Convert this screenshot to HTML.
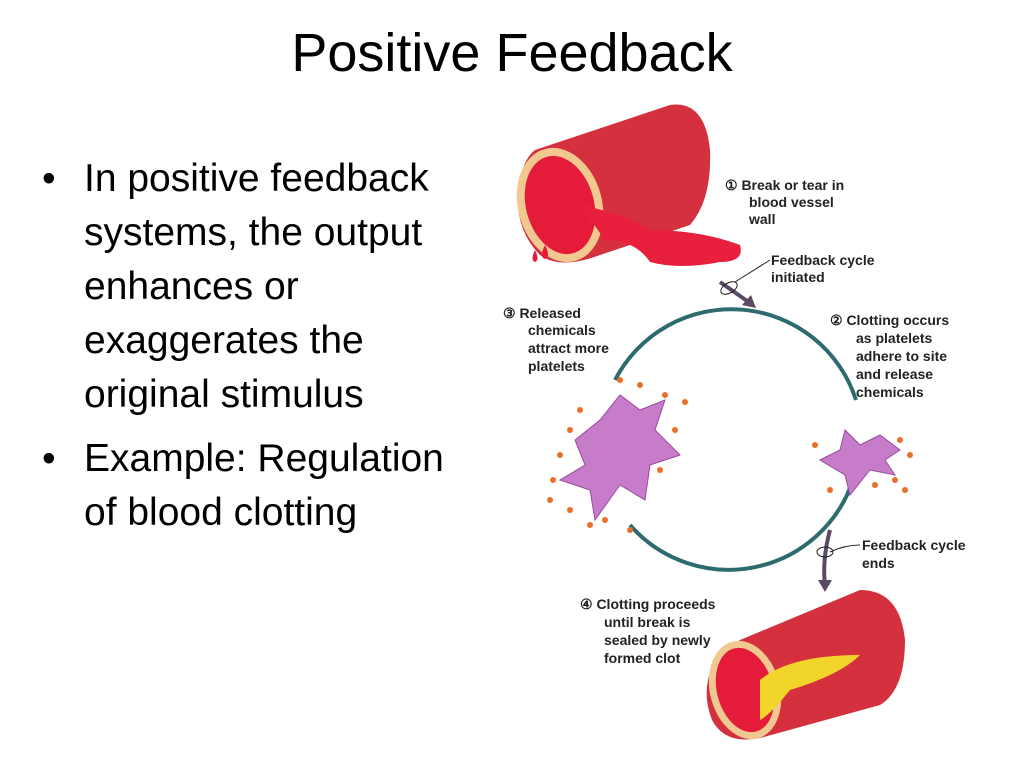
<!DOCTYPE html>
<html><head><style>
body{margin:0;width:1024px;height:768px;background:#fff;overflow:hidden;position:relative;font-family:"Liberation Sans",sans-serif}
#t{position:absolute;top:22px;left:0;width:1024px;text-align:center;font-size:54px;color:#000}
ul{position:absolute;left:42px;top:152px;margin:0;padding:0;list-style:none;font-size:39px;line-height:54px;color:#000;white-space:nowrap}
li{position:relative;padding-left:42px}
li:before{content:"•";position:absolute;left:0}
svg{position:absolute;left:0;top:0}
svg text{font-family:"Liberation Sans",sans-serif;font-weight:bold;font-size:14px;fill:#222}
</style></head><body>
<div id="t">Positive Feedback</div>
<ul><li>In positive feedback<br>systems, the output<br>enhances or<br>exaggerates the<br>original stimulus</li>
<li style="margin-top:10px">Example: Regulation<br>of blood clotting</li></ul>
<svg width="1024" height="768">
<path d="M535 150 L670 105 Q705 100 710 150 Q712 200 690 225 L600 255 Q560 270 540 255 Q515 230 518 190 Q522 160 535 150Z" fill="#d4303e"/>
<ellipse cx="560" cy="205" rx="42" ry="58" transform="rotate(-15 560 205)" fill="#f0c890"/>
<ellipse cx="560" cy="205" rx="34" ry="50" transform="rotate(-15 560 205)" fill="#e41c3a"/>
<path d="M580 205 Q630 215 650 230 Q700 230 740 245 Q745 262 720 262 Q680 270 650 262 Q635 240 605 240Z" fill="#e8203e"/>
<path d="M545 245 q-6 12 0 14 q6 -2 0 -14Z M535 250 q-5 10 0 12 q5 -2 0 -12Z" fill="#e41c3a"/>
<line x1="720" y1="282" x2="750" y2="303" stroke="#5a4a66" stroke-width="4"/>
<polygon points="756,308 742,305 751,295" fill="#5a4a66"/>
<ellipse cx="729" cy="288" rx="9" ry="5" fill="none" stroke="#222" transform="rotate(-30 729 288)"/>
<path d="M735 282 L770 260" stroke="#222" fill="none"/>
<path d="M615 380 A131 131 0 0 1 856 400" fill="none" stroke="#2e6b6f" stroke-width="4"/>
<path d="M853 480 A131 131 0 0 1 630 525" fill="none" stroke="#2e6b6f" stroke-width="4"/>
<path d="M830 530 Q822 560 825 585" stroke="#5a4a66" stroke-width="4" fill="none"/>
<polygon points="818,580 832,580 825,592" fill="#5a4a66"/>
<ellipse cx="825" cy="552" rx="8" ry="5" fill="none" stroke="#222"/>
<path d="M830 552 Q845 545 860 545" stroke="#222" fill="none"/>
<g fill="#c77cc9" stroke="#9a4aa0" stroke-width="1">
<path d="M575 440 L600 420 L620 395 L640 410 L665 400 L655 430 L680 455 L650 465 L645 500 L620 485 L595 520 L590 490 L560 480 L585 465Z"/>
<path d="M820 460 L840 450 L845 430 L860 445 L880 435 L900 450 L885 460 L895 475 L870 470 L850 495 L845 475Z"/>
</g>
<g fill="#e8702a">
<circle cx="580" cy="410" r="3"/><circle cx="570" cy="430" r="3"/><circle cx="560" cy="455" r="3"/><circle cx="553" cy="480" r="3"/><circle cx="550" cy="500" r="3"/><circle cx="620" cy="380" r="3"/><circle cx="640" cy="385" r="3"/><circle cx="665" cy="395" r="3"/><circle cx="685" cy="402" r="3"/><circle cx="675" cy="430" r="3"/><circle cx="660" cy="470" r="3"/><circle cx="605" cy="520" r="3"/><circle cx="630" cy="530" r="3"/><circle cx="590" cy="525" r="3"/><circle cx="570" cy="510" r="3"/>
<circle cx="815" cy="445" r="3"/><circle cx="830" cy="490" r="3"/><circle cx="900" cy="440" r="3"/><circle cx="910" cy="455" r="3"/><circle cx="895" cy="480" r="3"/><circle cx="905" cy="490" r="3"/><circle cx="875" cy="485" r="3"/>
</g>
<path d="M740 640 L860 590 Q900 590 905 640 Q905 690 880 705 L760 738 Q725 745 712 720 Q700 690 715 660Z" fill="#d4303e"/>
<ellipse cx="745" cy="690" rx="35" ry="50" transform="rotate(-15 745 690)" fill="#f0c890"/>
<ellipse cx="745" cy="690" rx="28" ry="43" transform="rotate(-15 745 690)" fill="#e41c3a"/>
<path d="M760 680 Q790 655 860 655 Q840 675 790 690 Q770 715 760 720Z" fill="#f2d52a"/>
<text x="725" y="190">① Break or tear in</text><text x="749" y="207">blood vessel</text><text x="749" y="224">wall</text>
<text x="771" y="265">Feedback cycle</text><text x="771" y="282">initiated</text>
<text x="503" y="318">③ Released</text><text x="528" y="335">chemicals</text><text x="528" y="353">attract more</text><text x="528" y="371">platelets</text>
<text x="830" y="325">② Clotting occurs</text><text x="856" y="343">as platelets</text><text x="856" y="361">adhere to site</text><text x="856" y="379">and release</text><text x="856" y="397">chemicals</text>
<text x="862" y="550">Feedback cycle</text><text x="862" y="568">ends</text>
<text x="580" y="609">④ Clotting proceeds</text><text x="604" y="627">until break is</text><text x="604" y="645">sealed by newly</text><text x="604" y="663">formed clot</text>
</svg>
</body></html>
